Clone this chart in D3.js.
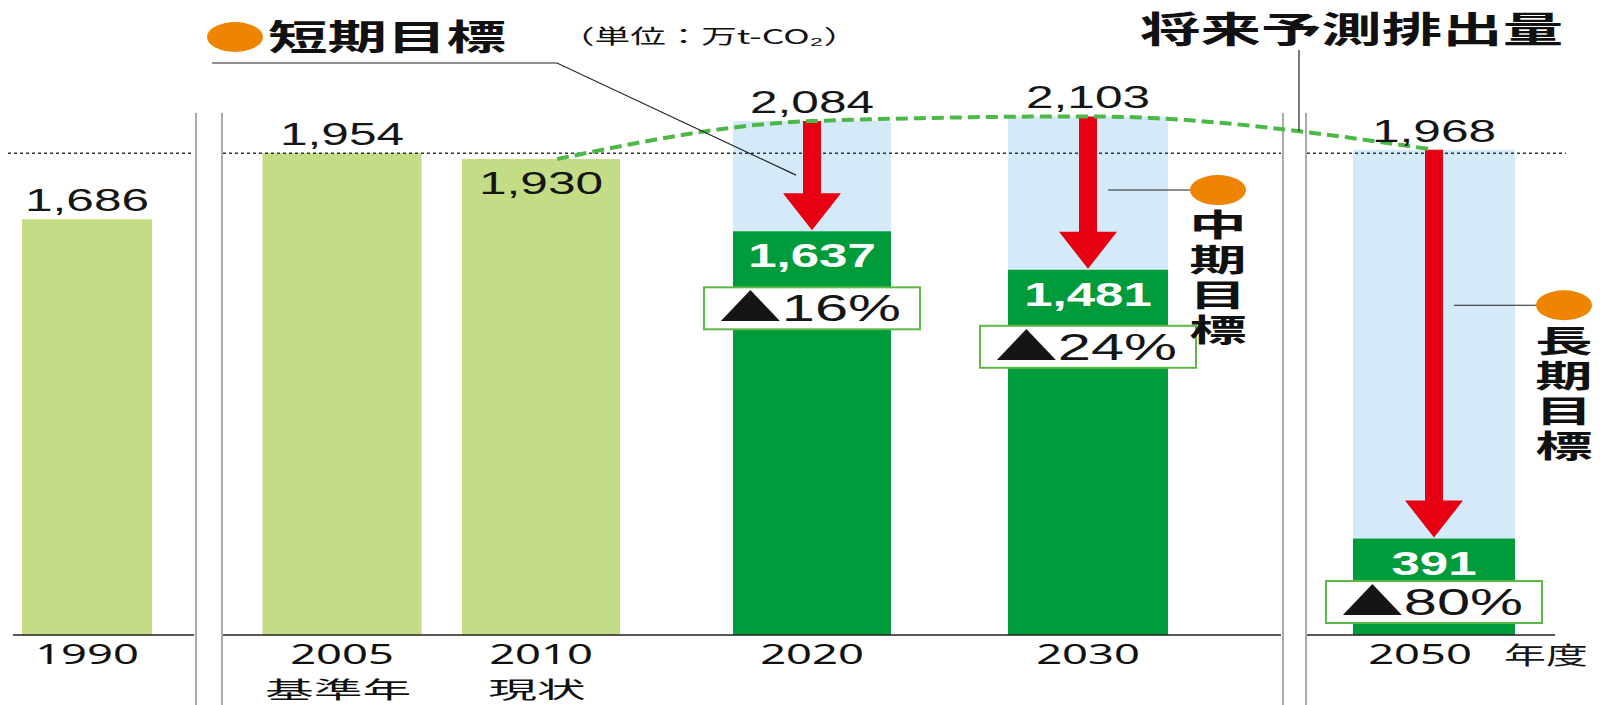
<!DOCTYPE html>
<html><head><meta charset="utf-8">
<script src="https://cdn.jsdelivr.net/npm/d3@7"></script>
<style>html,body{margin:0;padding:0;background:#fff;} svg{display:block;background:#fff}</style>
</head><body><svg id="chart" width="1608" height="705"></svg>
<script>
// ---------------- data ----------------
const categories = ["1990", "2005", "2010", "2020", "2030", "2050"];
const subLabels = ["", "基準年", "現状", "", "", ""];
const actualValues = [1686, 1954, 1930, null, null, null];
const projectedValues = [null, null, null, 2084, 2103, 1968];
const targetValues = [null, null, null, 1637, 1481, 391];
const reductionLabels = [null, null, null, "16%", "24%", "80%"];
const targetNames = [null, null, null, "短期目標", "中期目標", "長期目標"];
const baseYearValue = 1954;
const unitLabel = "（単位：万t-CO₂）";
const projectionLabel = "将来予測排出量";
const axisUnit = "年度";

// ---------------- layout ----------------
const svg = d3.select("#chart");
const baseY = 635;
const x = d3.scaleOrdinal().domain(categories).range([87, 342, 541, 812, 1088, 1434]);
const barW = d3.scaleOrdinal().domain(categories).range([130, 159, 158, 158, 160, 162]);
const y = d3.scaleLinear().domain([0, 2575]).range([baseY, 0]);

const C = {
  light: "#C4DC85", dark: "#009B3A", blue: "#D4EAF8", red: "#E60012",
  orange: "#EE8400", dash: "#4CB848", boxLine: "#5DB848", sep: "#AAAAAA", ink: "#151515"
};
const NUM = "'Liberation Sans', Arial, sans-serif";
const CJK = "'Noto Sans CJK JP', 'Noto Sans CJK SC', sans-serif";
const AX = "'Noto Sans', 'Open Sans', sans-serif";

function sText(parent, px, py, str, o) {
  return parent.append("text")
    .attr("transform", `translate(${px},${py}) scale(${o.sx || 1},1)`)
    .attr("text-anchor", o.anchor || "middle")
    .attr("font-family", o.family)
    .attr("font-size", o.size)
    .attr("font-weight", o.weight || 400)
    .attr("fill", o.fill || C.ink)
    .text(str);
}

const rows = categories.map((c, i) => ({
  cat: c, sub: subLabels[i], actual: actualValues[i], proj: projectedValues[i],
  target: targetValues[i], red: reductionLabels[i], name: targetNames[i]
}));
const actualRows = rows.filter(d => d.actual != null);
const futureRows = rows.filter(d => d.proj != null);

// ---------------- bars ----------------
const gBars = svg.append("g");
gBars.selectAll("rect.actual").data(actualRows).join("rect")
  .attr("x", d => x(d.cat) - barW(d.cat) / 2).attr("y", d => y(d.actual))
  .attr("width", d => barW(d.cat)).attr("height", d => baseY - y(d.actual))
  .attr("fill", C.light);
gBars.selectAll("rect.proj").data(futureRows).join("rect")
  .attr("x", d => x(d.cat) - barW(d.cat) / 2).attr("y", d => y(d.proj))
  .attr("width", d => barW(d.cat)).attr("height", d => baseY - y(d.proj))
  .attr("fill", C.blue);
svg.append("g").selectAll("rect").data(futureRows).join("rect")
  .attr("x", d => x(d.cat) - barW(d.cat) / 2).attr("y", d => y(d.target))
  .attr("width", d => barW(d.cat)).attr("height", d => baseY - y(d.target))
  .attr("fill", C.dark);

// ---------------- reference dotted line (base year level) ----------------
const segs = [[8, 193], [223, 1281], [1307, 1566]];
svg.append("g").selectAll("line").data(segs).join("line")
  .attr("x1", d => d[0]).attr("x2", d => d[1])
  .attr("y1", y(baseYearValue)).attr("y2", y(baseYearValue))
  .attr("stroke", "#333").attr("stroke-width", 1.5).attr("stroke-dasharray", "3,3");

// ---------------- baseline ----------------
const baseSegs = [[13, 194], [223, 1281], [1306, 1555]];
svg.append("g").selectAll("line").data(baseSegs).join("line")
  .attr("x1", d => d[0]).attr("x2", d => d[1]).attr("y1", baseY).attr("y2", baseY)
  .attr("stroke", "#222").attr("stroke-width", 1.6);

// ---------------- axis break separators ----------------
const seps = [196, 222, 1283, 1306];
svg.append("g").selectAll("line").data(seps).join("line")
  .attr("x1", d => d).attr("x2", d => d).attr("y1", 113).attr("y2", 705)
  .attr("stroke", C.sep).attr("stroke-width", 2);

// ---------------- red arrows ----------------
const shaft = 9, head = 29, headLen = 37;
svg.append("g").selectAll("path").data(futureRows).join("path")
  .attr("d", d => {
    const cx = x(d.cat), y0 = y(d.proj), y1 = y(d.target) - 1;
    return `M${cx - shaft},${y0}L${cx + shaft},${y0}L${cx + shaft},${y1 - headLen}L${cx + head},${y1 - headLen}L${cx},${y1}L${cx - head},${y1 - headLen}L${cx - shaft},${y1 - headLen}Z`;
  })
  .attr("fill", C.red);

// ---------------- projected-emission dashed curve ----------------
const curvePts = [[x("2010") + 16, y(actualValues[2])]].concat(futureRows.map(d => [x(d.cat), y(d.proj)]));
const curvePath = svg.append("path")
  .attr("d", d3.line().curve(d3.curveMonotoneX)(curvePts))
  .attr("fill", "none").attr("stroke", C.dash).attr("stroke-width", 4)
  .attr("stroke-dasharray", "12,6");

// ---------------- value labels ----------------
const gLab = svg.append("g");
actualRows.forEach(d => {
  const inside = d.cat === "2010";
  sText(gLab, x(d.cat), inside ? y(d.actual) + 35 : y(d.actual) - 8,
    d3.format(",")(d.actual), { family: NUM, size: 32, sx: 1.55 });
});
futureRows.forEach(d => {
  sText(gLab, x(d.cat), y(d.proj) - 8, d3.format(",")(d.proj), { family: NUM, size: 32, sx: 1.55 });
  const lb = y(d.target) + 36;
  sText(gLab, x(d.cat), lb, d3.format(",")(d.target),
    { family: NUM, size: 34, sx: 1.5, weight: 700, fill: "#fff" });
  const bt = Math.min(lb + 20, baseY - 54);
  gLab.append("rect").attr("x", x(d.cat) - 108).attr("y", bt).attr("width", 216).attr("height", 42)
    .attr("fill", "#fff").attr("stroke", C.boxLine).attr("stroke-width", 2);
  const t = gLab.append("text").attr("x", x(d.cat) - 2).attr("y", bt + 34)
    .attr("text-anchor", "middle").attr("font-family", NUM).attr("font-size", 36)
    .attr("textLength", 182).attr("lengthAdjust", "spacingAndGlyphs")
    .attr("fill", C.ink);
  t.append("tspan").attr("font-family", CJK).attr("font-size", 38).text("▲");
  t.append("tspan").text(d.red);
});

// ---------------- x-axis labels ----------------
const gAx = svg.append("g");
rows.forEach(d => {
  const dx = d.cat === "2050" ? -14 : 0;
  sText(gAx, x(d.cat) + dx, 664, d.cat, { family: AX, size: 27, weight: 400, sx: 1.68, fill: "#111" });
  if (d.sub) sText(gAx, x(d.cat) - 4, 698, d.sub, { family: CJK, size: 23, sx: 2.12, fill: "#111" });
});
sText(gAx, 1504, 664, axisUnit, { family: CJK, size: 24, sx: 1.75, anchor: "start" });

// ---------------- annotations ----------------
const gAnn = svg.append("g");
// short-term target title
const d20 = futureRows[0];
gAnn.append("ellipse").attr("cx", 235).attr("cy", 37).attr("rx", 28).attr("ry", 15).attr("fill", C.orange);
sText(gAnn, 268, 50, d20.name, { family: CJK, size: 35, weight: 700, sx: 1.7, anchor: "start", fill: "#111" });
const endY = y(d20.proj) + (y(d20.target) - y(d20.proj)) * 0.49;
gAnn.append("polyline")
  .attr("points", `212,63 557,63 ${x(d20.cat) - 16},${endY}`)
  .attr("fill", "none").attr("stroke", "#222").attr("stroke-width", 1.2);
// unit label
gAnn.append("text").attr("x", 559).attr("y", 44).attr("font-family", CJK).attr("font-size", 20)
  .attr("textLength", 300).attr("lengthAdjust", "spacingAndGlyphs").attr("fill", "#111").text(unitLabel);
// projection label
sText(gAnn, 1140, 43, projectionLabel, { family: CJK, size: 36, weight: 700, sx: 1.68, anchor: "start", fill: "#111" });
const leadX = 1299;
const node = curvePath.node(), total = node.getTotalLength();
let best = null;
for (let l = 0; l <= total; l += 0.5) {
  const p = node.getPointAtLength(l);
  if (!best || Math.abs(p.x - leadX) < Math.abs(best.x - leadX)) best = p;
}
gAnn.append("line").attr("x1", leadX).attr("x2", leadX).attr("y1", 50).attr("y2", best.y)
  .attr("stroke", "#222").attr("stroke-width", 1.2);

// mid / long-term vertical labels (vertical writing)
const sideFrac = { "2030": 0.48, "2050": 0.40 };
futureRows.filter(d => d.cat !== "2020").forEach(d => {
  const cx = x(d.cat);
  const yy = y(d.proj) + (y(d.target) - y(d.proj)) * sideFrac[d.cat];
  const dotX = cx + 130;
  gAnn.append("line").attr("x1", cx + 20).attr("x2", dotX - 26).attr("y1", yy).attr("y2", yy)
    .attr("stroke", "#222").attr("stroke-width", 1.2);
  gAnn.append("ellipse").attr("cx", dotX).attr("cy", yy).attr("rx", 28).attr("ry", 15).attr("fill", C.orange);
  gAnn.append("text")
    .attr("transform", `translate(${dotX},${yy + 19}) scale(1.85,1)`)
    .attr("x", 0).attr("y", 0)
    .style("writing-mode", "vertical-rl")
    .attr("letter-spacing", 4)
    .attr("font-family", CJK).attr("font-size", 31).attr("font-weight", 700)
    .attr("fill", "#111").text(d.name);
});
</script>
</body></html>
